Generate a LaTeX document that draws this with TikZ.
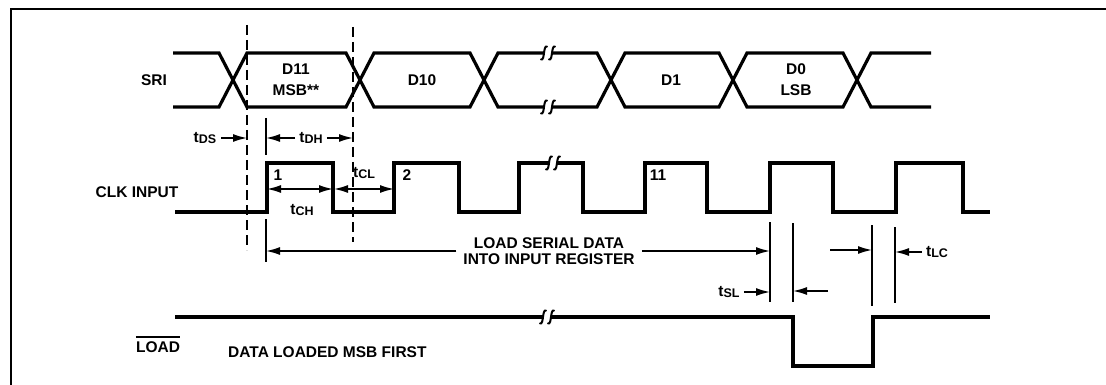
\documentclass[tikz,border=0pt]{standalone}
\usepackage{fontspec}
\setmainfont{Liberation Sans}
\usetikzlibrary{arrows.meta}
\newcommand\mytsub[1]{t\raisebox{-1.5pt}{\fontsize{12.5}{13}\selectfont #1}}
\begin{document}
\begin{tikzpicture}[x=1pt,y=-1pt,
  wave/.style={line width=3.2pt, line join=miter},
  thinln/.style={line width=1.5pt},
  arr/.style={thinln,-{Latex[length=14pt,width=8pt]}},
  dbl/.style={thinln,{Latex[length=14pt,width=8pt]}-{Latex[length=14pt,width=8pt]}},
  refdash/.style={line width=1.4pt, dash pattern=on 10pt off 5pt},
  lbl/.style={font=\bfseries\fontsize{15.5}{16}\selectfont, inner sep=0pt},
  lbltwo/.style={lbl, align=center, font=\bfseries\fontsize{15.5}{21}\selectfont},
  lblreg/.style={lbl, align=center, font=\bfseries\fontsize{15.5}{16}\selectfont},
  brk/.pic={
    \draw[line width=2pt, line cap=round] (-1,-6.5) .. controls (-5,-8) and (-3,8) .. (-7,6.5);
    \draw[line width=2pt, line cap=round] (7,-6.5) .. controls (3,-8) and (5,8) .. (1,6.5);
  }
]
\useasboundingbox (0,0) rectangle (1106,385);
% frame
\draw[line width=1.6pt] (11,385) -- (11,9) -- (1106,9);

% reference coordinates
\coordinate (vds) at (247,0);
\coordinate (vr) at (266,0);
\coordinate (vdh) at (353,0);
\coordinate (v770) at (770,0);
\coordinate (v793) at (793,0);
\coordinate (v872) at (872,0);
\coordinate (v895) at (895,0);

% labels
\node[lbl] (sri) at (154,80) {SRI};
\node[lbl] (clk) at (137,192) {CLK INPUT};
\node[lbl] (load) at (158,347) {LOAD};
\draw[thinln] (load.west |- 0,337) -- (load.east |- 0,337);
\node[lbl,anchor=west] (dlm) at (228,352) {DATA LOADED MSB FIRST};

% SRI waveform
\draw[wave] (173,53) -- (219,53) -- (247,107) -- (346,107) -- (374,53) -- (470,53) -- (498,107) -- (544,107);
\draw[wave] (552,107) -- (597,107) -- (625,53) -- (719,53) -- (747,107) -- (843,107) -- (871,53) -- (931,53);
\draw[wave] (173,107) -- (219,107) -- (247,53) -- (346,53) -- (374,107) -- (470,107) -- (498,53) -- (544,53);
\draw[wave] (552,53) -- (597,53) -- (625,107) -- (719,107) -- (747,53) -- (843,53) -- (871,107) -- (931,107);
\pic at (548,53) {brk};
\pic at (548,107) {brk};

\node[lbltwo] (d11) at (296,80) {D11\\MSB**};
\node[lbl] (d10) at (422,80) {D10};
\node[lbl] (d1) at (671,80) {D1};
\node[lbltwo] (d0) at (796,80) {D0\\LSB};

% CLK waveform
\draw[wave] (175,212) -- (267,212) -- (267,163) -- (333,163) -- (333,212) -- (394,212) -- (394,163) -- (459,163) -- (459,212) -- (519,212) -- (519,163) -- (549,163);
\draw[wave] (557,163) -- (583,163) -- (583,212) -- (645,212) -- (645,163) -- (707,163) -- (707,212) -- (770,212) -- (770,163) -- (833,163) -- (833,212) -- (896,212) -- (896,163) -- (963,163) -- (963,212) -- (990,212);
\pic at (553,163) {brk};
\node[lbl] (n1) at (278,175) {1};
\node[lbl] (n2) at (407,175) {2};
\node[lbl] (n11) at (658,175) {11};

% LOAD waveform
\draw[wave] (175,317) -- (543,317);
\draw[wave] (551,317) -- (793,317) -- (793,366) -- (873,366) -- (873,317) -- (990,317);
\pic at (547,317) {brk};

% dashed reference lines
\draw[refdash] (247,25) -- (247,250);
\draw[refdash] (353,27) -- (353,242);

% thin vertical reference lines
\draw[thinln] (266,118) -- (266,155);
\draw[thinln] (266,219) -- (266,262);
\draw[thinln] (770,222) -- (770,302);
\draw[thinln] (793,223) -- (793,302);
\draw[thinln] (872,225) -- (872,306);
\draw[thinln] (895,227) -- (895,303);

% tDS, tDH
\node[lbl] (tds) at (205,138) {\mytsub{DS}};
\draw[arr] ([xshift=5pt]tds.east) -- (tds.east -| vds);
\node[lbl] (tdh) at (311,138) {\mytsub{DH}};
\draw[arr] ([xshift=-4pt]tdh.west) -- (tdh.west -| vr);
\draw[arr] ([xshift=4pt]tdh.east) -- (tdh.east -| vdh);

% tCH, tCL
\coordinate (ch1) at (267,189);
\coordinate (ch2) at (333,189);
\coordinate (cl2) at (394,189);
\draw[dbl] (ch1) -- (ch2);
\draw[dbl] ([xshift=1pt]ch2) -- (cl2);
\node[lbl] (tch) at (302,210) {\mytsub{CH}};
\node[lbl] (tcl) at (364,173) {\mytsub{CL}};

% load serial data
\node[lblreg] (lsd) at (549,251) {LOAD SERIAL DATA\\INTO INPUT REGISTER};
\draw[arr] ([xshift=-7pt]lsd.west) -- (lsd.west -| vr);
\draw[arr] ([xshift=7pt]lsd.east) -- (lsd.east -| v770);

% tSL
\node[lbl] (tsl) at (729,292) {\mytsub{SL}};
\draw[arr] ([xshift=4pt]tsl.east) -- (tsl.east -| v770);
\coordinate (sl2) at (828,291);
\draw[arr] (sl2) -- (sl2 -| v793);

% tLC
\coordinate (lc1) at (830,250);
\draw[arr] (lc1) -- (lc1 -| v872);
\node[lbl] (tlc) at (937,252) {\mytsub{LC}};
\draw[arr] ([xshift=-4pt]tlc.west) -- (tlc.west -| v895);
\end{tikzpicture}
\end{document}
